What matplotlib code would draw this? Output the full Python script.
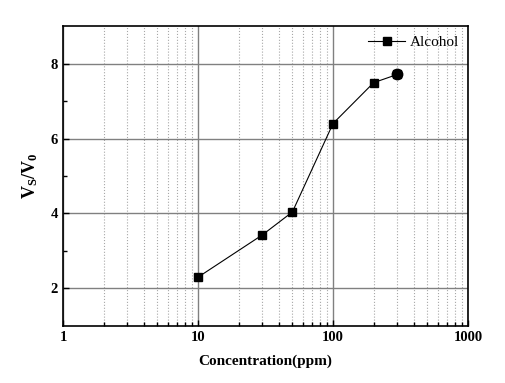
#Program to plot V_S/V_0 against alcohol concentration on a log axis.
import matplotlib.pyplot as plt
from matplotlib.ticker import LogLocator, FixedLocator, NullFormatter

#Concentrations in ppm and the measured ratios.
concentration = [10, 30, 50, 100, 200, 300]
ratio = [2.30, 3.43, 4.04, 6.40, 7.49, 7.71]
x_tick_labels = ['1', '10', '100', '1000']
y_ticks = [2, 4, 6, 8]

def main():
    """Mainline logic for creating the line graph."""
    plt.rcParams['font.family'] = ['Liberation Serif', 'DejaVu Serif']
    plt.rcParams['mathtext.fontset'] = 'custom'
    plt.rcParams['mathtext.rm'] = 'Liberation Serif'
    plt.rcParams['mathtext.bf'] = 'Liberation Serif:bold'
    fig = plt.figure(figsize=(5.06, 3.83), dpi=100)
    ax = fig.add_axes([0.1245, 0.149, 0.8005, 0.783])

    #Line with square markers, the last point drawn as a dot.
    ax.plot(concentration, ratio, color='black', linewidth=0.8,
            marker='s', markersize=6, label='Alcohol', zorder=3)
    ax.plot(concentration[-1:], ratio[-1:], color='black', linestyle='none',
            marker='o', markersize=7.5, zorder=4)

    #Log scale on x.
    ax.set_xscale('log')
    ax.set_xlim(1, 1000)
    ax.set_ylim(1, 9)
    ax.set_xticks([1, 10, 100, 1000], x_tick_labels)
    ax.xaxis.set_minor_locator(LogLocator(base=10, subs=range(2, 10)))
    ax.xaxis.set_minor_formatter(NullFormatter())
    ax.set_yticks(y_ticks)
    ax.yaxis.set_minor_locator(FixedLocator([3, 5, 7]))

    #Grid: solid major, dotted minor on x.
    ax.grid(True, which='major', color='#808080', linewidth=1.0, linestyle='-')
    ax.grid(True, which='minor', axis='x', color='#a8a8a8', linewidth=0.8, linestyle=':')
    ax.set_axisbelow(True)

    ax.tick_params(which='both', direction='in', top=False, right=False,
                   labelsize=10.5)
    ax.tick_params(which='major', length=4, width=1)
    ax.tick_params(which='minor', length=3, width=1)
    for lbl in ax.get_xticklabels() + ax.get_yticklabels():
        lbl.set_fontweight('bold')
    for sp in ax.spines.values():
        sp.set_linewidth(1.2)

    ax.set_xlabel('Concentration(ppm)', fontsize=11, fontweight='bold', labelpad=8)
    ax.set_ylabel(r'$\mathbf{V_S/V_0}$', fontsize=13, labelpad=8)

    ax.legend(loc='upper right', frameon=False, fontsize=11, handlelength=2.4,
              borderaxespad=0.2, handletextpad=0.3)

    fig.savefig('out.png', dpi=100)

if __name__ == '__main__':
    main()
